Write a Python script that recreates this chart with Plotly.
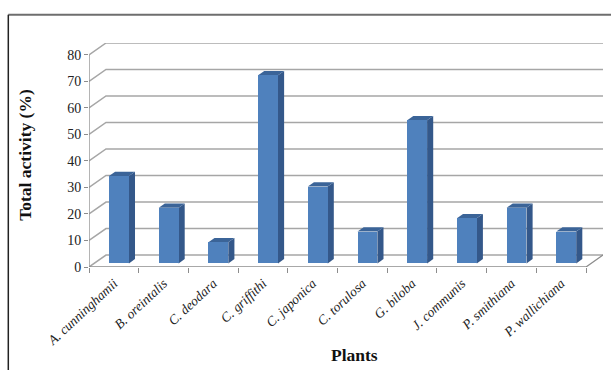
import plotly.graph_objects as go

# Data
plants = ["A. cunninghamii", "B. oreintalis", "C. deodara", "C. griffithi", "C. japonica",
          "C. torulosa", "G. biloba", "J. communis", "P. smithiana", "P. wallichiana"]
activity = [33, 21, 8, 71, 29, 12, 54, 17, 21, 12]
y_ticks = [0, 10, 20, 30, 40, 50, 60, 70, 80]

# Pseudo-3D geometry (in axis units)
n = len(plants)
DX = 0.342      # depth offset along x (category units)
DY = 4.52       # depth offset along y (value units)
BAR_W = 0.40    # bar width
F0, F1 = 0.30, 0.66   # front / back depth fraction of each bar
YMAX = y_ticks[-1]

FRONT = "#4F81BD"
SIDE = "#34588A"
TOP = "#3B6498"
GRID = "#A6A6A6"
AXIS = "#8C8C8C"

fig = go.Figure()

# back wall and side wall gridlines
gx, gy = [], []
for v in y_ticks:
    gx += [0, DX, n + DX, None]
    gy += [v, v + DY, v + DY, None]
fig.add_trace(go.Scatter(x=gx, y=gy, mode="lines", line=dict(color=GRID, width=1.5),
                         hoverinfo="skip", showlegend=False))

# floor front edge, right edge and the front value axis
fig.add_trace(go.Scatter(x=[0, n, n + DX, None, 0, 0], y=[0, 0, DY, None, 0, YMAX],
                         mode="lines", line=dict(color=AXIS, width=1.3),
                         hoverinfo="skip", showlegend=False))

centers = [i + 0.5 for i in range(n)]

# front faces
fig.add_trace(go.Bar(x=[c + F0 * DX for c in centers], y=activity, base=F0 * DY,
                     width=BAR_W, marker=dict(color=FRONT, line=dict(width=0)),
                     showlegend=False, xaxis="x2"))

# side and top faces
for c, v in zip(centers, activity):
    xr = c + BAR_W / 2
    xl = c - BAR_W / 2
    fig.add_trace(go.Scatter(
        x=[xr + F0 * DX, xr + F1 * DX, xr + F1 * DX, xr + F0 * DX, xr + F0 * DX],
        y=[F0 * DY, F1 * DY, v + F1 * DY, v + F0 * DY, F0 * DY],
        mode="lines", fill="toself", fillcolor=SIDE, line=dict(width=0, color=SIDE),
        hoverinfo="skip", showlegend=False))
    fig.add_trace(go.Scatter(
        x=[xl + F0 * DX, xr + F0 * DX, xr + F1 * DX, xl + F1 * DX, xl + F0 * DX],
        y=[v + F0 * DY, v + F0 * DY, v + F1 * DY, v + F1 * DY, v + F0 * DY],
        mode="lines", fill="toself", fillcolor=TOP, line=dict(width=0, color=TOP),
        hoverinfo="skip", showlegend=False))

serif = "Liberation Serif"

fig.update_layout(
    width=611, height=370,
    margin=dict(l=89, r=8, t=43, b=103),
    paper_bgcolor="white", plot_bgcolor="white",
    font=dict(family=serif),
    bargap=0,
    xaxis=dict(range=[0, n + DX], tickvals=centers, ticktext=plants, tickangle=-43,
               ticks="", showgrid=False, zeroline=False, showline=False,
               ticklabelstandoff=5,
               tickfont=dict(family=serif, size=13.5, color="#222", style="italic")),
    xaxis2=dict(range=[0, n + DX], overlaying="x", side="bottom", anchor="y",
                tickvals=list(range(n + 1)), ticks="outside", ticklen=5, tickcolor=AXIS,
                tickwidth=1.2, showticklabels=False, showgrid=False, zeroline=False,
                showline=False),
    yaxis=dict(range=[0, YMAX + DY], tickvals=y_ticks, ticks="outside", ticklen=4,
               tickcolor=AXIS, tickwidth=1.2, showgrid=False, zeroline=False, showline=False,
               tickfont=dict(family=serif, size=14, color="#222"),
               title=dict(text="<b>Total activity (%)</b>",
                          font=dict(family=serif, size=17.5, color="#111"), standoff=31)),
    annotations=[
        dict(text="<b>Plants</b>", xref="paper", yref="paper", x=0.5175, y=-0.392,
             xanchor="center", yanchor="middle", showarrow=False,
             font=dict(family=serif, size=17.5, color="#111")),
    ],
    shapes=[
        dict(type="line", xref="paper", yref="paper", x0=-0.157, x1=1.02, y0=1.126, y1=1.126,
             line=dict(color="#6E6E6E", width=2)),
        dict(type="line", xref="paper", yref="paper", x0=-0.157, x1=-0.157, y0=1.126, y1=-0.5,
             line=dict(color="#222222", width=1.5)),
    ],
)

fig.write_html("out.html")
